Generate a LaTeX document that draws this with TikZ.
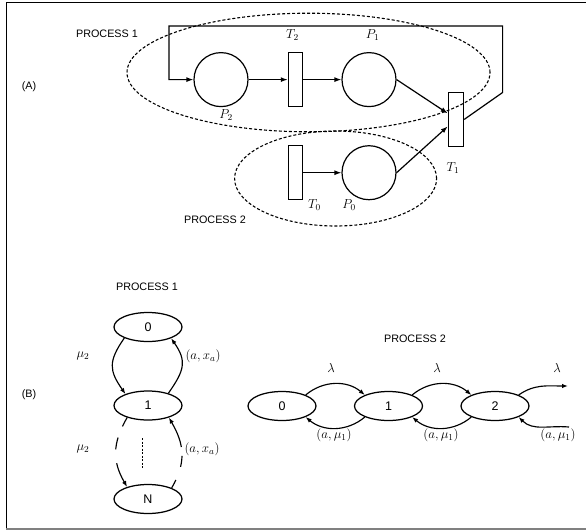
\RequirePackage{fix-cm}
\documentclass[tikz,border=0pt]{standalone}
\usepackage{fontspec}
\setmainfont{Liberation Sans}
\usetikzlibrary{arrows.meta,shapes.geometric}
\begin{document}
\begin{tikzpicture}[
  x=1pt,y=1pt,
  every node/.style={inner sep=0pt},
  place/.style={circle,draw,line width=1.2pt,minimum size=54pt},
  trans/.style={rectangle,draw,line width=1.5pt,minimum width=14pt,minimum height=54pt},
  state/.style={ellipse,draw,line width=1.25pt,minimum width=68pt,minimum height=29pt,font=\fontsize{12.5}{14}\selectfont},
  lbl/.style={font=\fontsize{10.8}{12}\selectfont},
  mlbl/.style={font=\fontsize{13}{15}\selectfont},
  arc/.style={line width=1.2pt,line join=miter,-{Latex[length=7pt,width=5pt]}},
  sarc/.style={line width=1.15pt,-{Latex[length=6pt,width=4.5pt]}},
  proc/.style={draw,line width=1.1pt,dash pattern=on 3pt off 2pt},
]
\useasboundingbox (0,0) rectangle (586,-531);
% frame
\draw[line width=1pt] (6,-529) -- (6,-2) -- (586,-2);
\draw[line width=2.5pt,gray] (6,-529) -- (586,-529);

% ---------- (A) ----------
\node[lbl] (A) at (29,-87) {(A)};
\node[lbl] (pa1) at (107,-34) {PROCESS 1};
\node[lbl] (pa2) at (215,-220) {PROCESS 2};

\draw[proc] (308.5,-72.5) ellipse [x radius=181.5, y radius=59.3];
\draw[proc] (335.6,-178.5) ellipse [x radius=101, y radius=47.5];

\node[place] (P2) at (221,-79.6) {};
\node[trans] (T2) at (295.5,-79.6) {};
\node[place] (P1) at (369,-79.6) {};
\node[trans,minimum width=15pt] (T1) at (456,-119.4) {};
\node[trans] (T0) at (295.5,-172.7) {};
\node[place] (P0) at (369,-172.7) {};

\node[mlbl] at (292.5,-35.5) {$T_2$};
\node[mlbl] at (372.5,-35.5) {$P_1$};
\node[mlbl] at (226,-115) {$P_2$};
\node[mlbl] at (453,-168) {$T_1$};
\node[mlbl] at (314.5,-205) {$T_0$};
\node[mlbl] at (349,-205) {$P_0$};

\draw[arc] (P2) -- (T2);
\draw[arc] (T2) -- (P1);
\draw[arc] (T0) -- (P0);
\draw[arc] (P1.east) -- ([yshift=6pt]T1.west);
\draw[arc] (P0.east) -- ([yshift=-7pt]T1.west);
\coordinate (fbA) at (502.6,-92.5);
\coordinate (fbB) at (502.6,-26);
\coordinate (fbC) at (169,-26);
\draw[arc] (T1.east) -- (fbA) -- (fbB) -- (fbC) |- (P2.west);

% ---------- (B) ----------
\node[lbl] (B) at (29,-395) {(B)};
\node[lbl] (pb1) at (147,-287) {PROCESS 1};
\node[lbl] (pb2) at (415,-339) {PROCESS 2};

\node[state] (s0) at (148,-327) {0};
\node[state] (s1) at (148,-405.5) {1};
\node[state] (sN) at (148,-499) {N};

\draw[sarc] (s0.205) to[out=235,in=125,looseness=1.3] (s1.153);
\draw[sarc] (s1.31) to[out=55,in=305,looseness=1.3] (s0.334);
\draw[sarc,dash pattern=on 10pt off 12pt on 12pt off 14pt on 60pt] (s1.210) to[out=240,in=120,looseness=1.1] (sN.150);
\draw[sarc,dash pattern=on 9pt off 14pt on 11pt off 9pt on 60pt] (sN.25) to[out=60,in=300,looseness=1.1] (s1.330);
\coordinate (dtA) at (142,-438);
\coordinate (dtB) at (142,-469);
\draw[line width=1pt,dash pattern=on 2pt off 1.5pt] (dtA) -- (dtB);

\node[mlbl] at (83,-356) {$\mu_2$};
\node[mlbl] at (83,-449) {$\mu_2$};
\node[mlbl] at (203,-356) {$(a,x_a)$};
\node[mlbl] at (202,-449) {$(a,x_a)$};

\node[state] (q0) at (282,-406) {0};
\node[state] (q1) at (388.5,-406) {1};
\node[state] (q2) at (495,-406) {2};
\coordinate (qout) at (568,-386);
\coordinate (qin) at (569,-427);

\draw[sarc] (q0.25) to[out=40,in=140] (q1.155);
\draw[sarc] (q1.205) to[out=220,in=320] (q0.335);
\draw[sarc] (q1.25) to[out=40,in=140] (q2.155);
\draw[sarc] (q2.205) to[out=220,in=320] (q1.335);
\draw[sarc] (q2.25) to[out=35,in=180] (qout);
\draw[sarc] (qin) to[out=175,in=315] (q2.335);

\node[mlbl] at (331,-368) {$\lambda$};
\node[mlbl] at (437,-368) {$\lambda$};
\node[mlbl] at (557,-368) {$\lambda$};
\node[mlbl] at (334,-435) {$(a,\mu_1)$};
\node[mlbl] at (441,-435) {$(a,\mu_1)$};
\node[mlbl] at (558,-435) {$(a,\mu_1)$};
\end{tikzpicture}
\end{document}
